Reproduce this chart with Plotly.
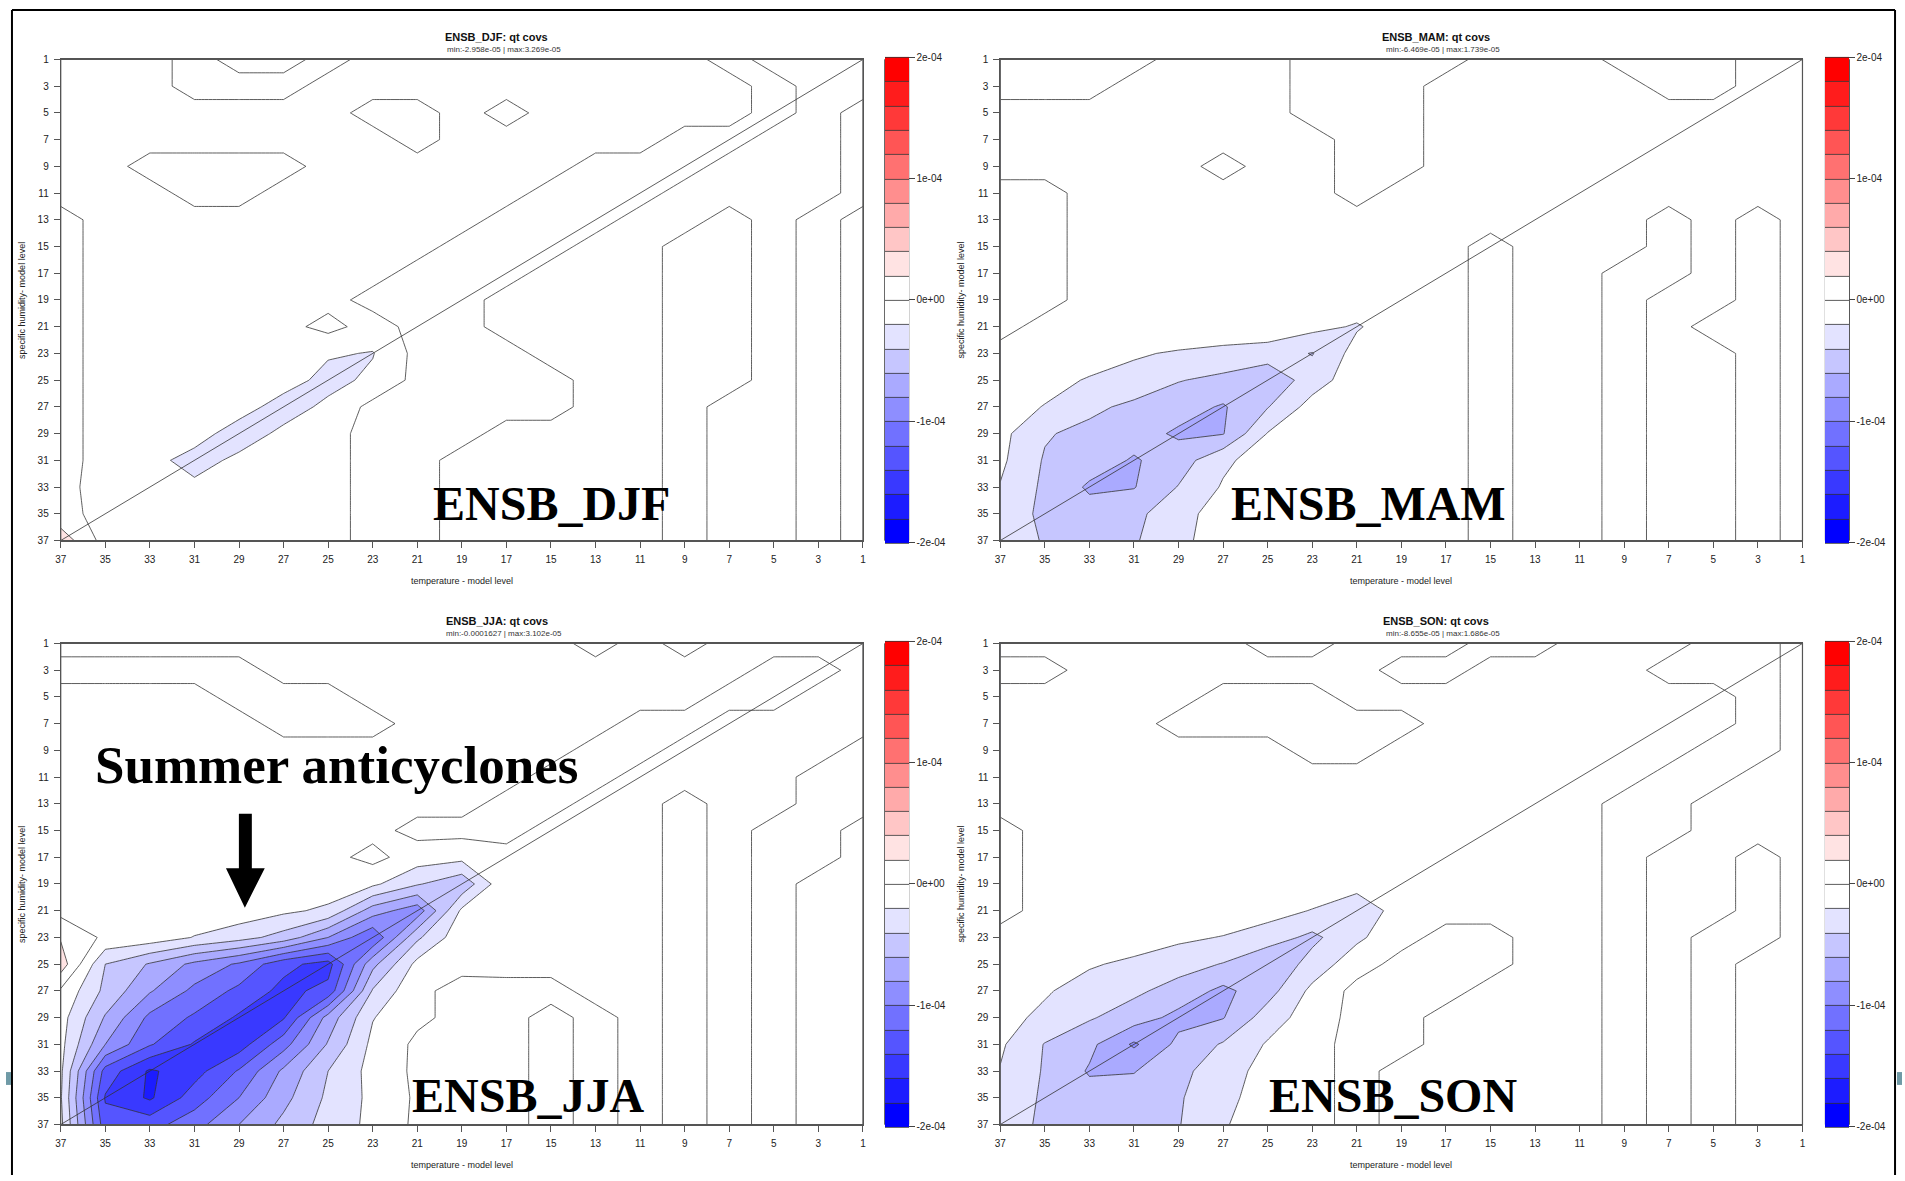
import plotly.graph_objects as go

W, H = 1905, 1181

# grid of model levels (odd levels, as on the tick labels)
X_LEVELS = list(range(1, 38, 2))      # temperature model level
Y_LEVELS = list(range(1, 38, 2))      # specific humidity model level
TICK_VALS = list(range(1, 38, 2))
CBAR_TICKS = [-2e-4, -1e-4, 0.0, 1e-4, 2e-4]
CBAR_TEXT = ["-2e-04", "-1e-04", "0e+00", "1e-04", "2e-04"]
LEVEL_COLORS = ["#0000FF", "#1C1CFF", "#3939FF", "#5555FF", "#7171FF",
                "#8E8EFF", "#AAAAFF", "#C6C6FF", "#E3E3FF", "#FFFFFF",
                "#FFFFFF", "#FFE3E3", "#FFC6C6", "#FFAAAA", "#FF8E8E",
                "#FF7171", "#FF5555", "#FF3939", "#FF1C1C", "#FF0000"]
UNIT = 1e-6

# covariance values in 1e-6 units; rows: level 1..37 (top->bottom),
# columns: level 37..1 (left->right, as displayed)
DJF = [
    [-6, -6, -6, 6, -6, -6, 6, -6, -6, -6, -6, -6, -6, -6, -6, 6, -6, -6, -6],
    [-6, -6, -6, 6, 6, 6, -6, -6, -6, -6, -6, -6, -6, -6, -6, -6, 6, -6, -6],
    [-6, -6, -6, -6, -6, -6, -6, 6, 6, -6, 6, -6, -6, -6, -6, -6, 6, -6, 6],
    [-6, -6, -6, -6, -6, -6, -6, -6, 6, -6, -6, -6, -6, -6, 6, 6, -6, -6, 6],
    [-6, -6, 6, 6, 6, 6, -6, -6, -6, -6, -6, -6, 6, 6, 6, -6, -6, -6, 6],
    [-6, -6, -6, 6, 6, -6, -6, -6, -6, -6, -6, 6, 6, 6, -6, -6, -6, -6, 6],
    [6, -6, -6, -6, -6, -6, -6, -6, -6, -6, 6, 6, 6, -6, -6, 6, -6, 6, -6],
    [6, -6, -6, -6, -6, -6, -6, -6, -6, 6, 6, 6, -6, -6, 6, 6, -6, 6, -6],
    [6, -6, -6, -6, -6, -6, -6, -6, 6, 6, 6, -6, -6, -6, 6, 6, -6, 6, -6],
    [6, -6, -6, -6, -6, -6, -6, 6, 6, 6, -6, -6, -6, -6, 6, 6, -6, 6, -6],
    [6, -6, -6, -6, -6, -6, 6, -8, 6, 6, -6, -6, -6, -6, 6, 6, -6, 6, -6],
    [6, -6, -6, -6, -6, -6, -18, -21, 6, 6, 6, -6, -6, -6, 6, 6, -6, 6, -6],
    [6, -6, -6, -6, -6, -12, -26, -16, 6, 6, 6, 6, -6, -6, 6, 6, -6, 6, -6],
    [6, -6, -6, -6, -12, -28, -16, 6, 6, 6, 6, 6, -6, -6, 6, -6, -6, 6, -6],
    [6, -6, -6, -12, -29, -16, -6, 6, 6, 6, -6, -6, -6, -6, 6, -6, -6, 6, -6],
    [6, -6, -14, -27, -16, -6, -6, 6, 6, -6, -6, -6, -6, -6, 6, -6, -6, 6, -6],
    [6, -8, -16, -16, -6, -6, -6, 6, 6, -6, -6, -6, -6, -6, 6, -6, -6, 6, -6],
    [6, -6, -10, -6, -6, -6, -6, 6, 6, -6, -6, -6, -6, -6, 6, -6, -6, 6, -6],
    [32, -8, -6, -6, -6, -6, -6, 6, 6, -6, -6, -6, -6, -6, 6, -6, -6, 6, -6],
]

MAM = [
    [6, 6, 6, 6, -6, -6, -6, 6, 6, 6, 6, -6, -6, -6, 6, 6, 6, -6, -6],
    [6, 6, 6, -6, -6, -6, -6, 6, 6, 6, -6, -6, -6, -6, -6, 6, 6, -6, -6],
    [-6, -6, -6, -6, -6, -6, -6, 6, 6, 6, -6, -6, -6, -6, -6, -6, -6, -6, -6],
    [-6, -6, -6, -6, -6, -6, -6, -6, 6, 6, -6, -6, -6, -6, -6, -6, -6, -6, -6],
    [-6, -6, -6, -6, -6, 6, -6, -6, 6, 6, -6, -6, -6, -6, -6, -6, -6, -6, -6],
    [6, 6, -6, -6, -6, -6, -6, -6, 6, -6, -6, -6, -6, -6, -6, -6, -6, -6, -6],
    [6, 6, -6, -6, -6, -6, -6, -6, -6, -6, -6, -6, -6, -6, -6, 6, -6, 6, -6],
    [6, 6, -6, -6, -6, -6, -6, -6, -6, -6, -6, 6, -6, -6, -6, 6, -6, 6, -6],
    [6, 6, -6, -6, -6, -6, -6, -6, -6, -6, -6, 6, -6, -6, 6, 6, -6, 6, -6],
    [6, 6, -6, -6, -6, -6, -6, -6, -8, -6, -6, 6, -6, -6, 6, -6, -6, 6, -6],
    [6, -6, -6, -6, -6, -6, -6, -14, -22, -8, -6, 6, -6, -6, 6, -6, 6, 6, -6],
    [-6, -6, -8, -18, -22, -26, -30, -41, -12, -6, -6, 6, -6, -6, 6, -6, -6, 6, -6],
    [-6, -12, -22, -26, -39, -45, -55, -30, -8, -4, -6, 6, -6, -6, 6, -6, -6, 6, -6],
    [-10, -21, -35, -45, -52, -62, -41, -12, -6, -6, -6, 6, -6, -6, 6, -6, -6, 6, -6],
    [-14, -38, -46, -52, -63, -61, -19, -8, -4, -6, -6, 6, -6, -6, 6, -6, -6, 6, -6],
    [-16, -42, -50, -62, -50, -24, -10, -5, -6, -6, -6, 6, -6, -6, 6, -6, -6, 6, -6],
    [-21, -44, -63, -61, -39, -18, -8, -6, -6, -6, -6, 6, -6, -6, 6, -6, -6, 6, -6],
    [-24, -46, -52, -45, -28, -10, -6, -6, -6, -6, -6, 6, -6, -6, 6, -6, -6, 6, -6],
    [-26, -42, -48, -42, -26, -8, -6, -6, -6, -6, -6, 6, -6, -6, 6, -6, -6, 6, -6],
]

JJA = [
    [-6, -6, -6, -6, -6, -6, -6, -6, -6, -6, -6, -6, 6, -6, 6, -6, -6, -6, -6],
    [6, 6, 6, 6, 6, -6, -6, -6, -6, -6, -6, -6, -6, -6, -6, -6, 6, 6, -6],
    [-6, -6, -6, -6, 6, 6, 6, -6, -6, -6, -6, -6, -6, -6, -6, 6, 6, -6, -6],
    [-6, -6, -6, -6, -6, 6, 6, 6, -6, -6, -6, -6, -6, 6, 6, -6, -6, -6, -6],
    [-6, -6, -6, -6, -6, -6, -6, -6, -6, -6, -6, -6, 6, 6, -6, -6, -6, -6, 6],
    [-6, -6, -6, -6, -6, -6, -6, -6, -6, -6, -6, 6, 6, -6, -6, -6, -6, 6, 6],
    [-6, -6, -6, -6, -6, -6, -6, -6, -6, -6, 6, 6, -6, -6, 6, -6, -6, 6, 6],
    [-6, -6, -6, -6, -6, -6, -6, -6, 6, 6, 6, -6, -6, -6, 6, -6, 6, 6, -6],
    [-6, -6, -6, -6, -6, -6, -6, 6, -10, -14, -6, -6, -6, -6, 6, -6, 6, 6, -6],
    [-6, -6, -6, -6, -6, -8, -8, -16, -38, -55, -2, -6, -6, -6, 6, -6, 6, -6, -6],
    [-6, -6, -6, -6, -8, -16, -24, -70, -92, -16, -4, -6, -6, -6, 6, -6, 6, -6, -6],
    [18, -4, -8, -21, -32, -48, -80, -118, -44, -6, -6, -6, -6, -6, 6, -6, 6, -6, -6],
    [31, -40, -62, -85, -103, -134, -148, -66, -14, -5, -6, -6, -6, -6, 6, -6, 6, -6, -6],
    [-3, -45, -78, -105, -125, -146, -134, -38, -4, 6, 6, 6, -6, -6, 6, -6, 6, -6, -6],
    [-12, -62, -105, -123, -143, -142, -72, -21, -4, 6, 6, -6, 6, -6, 6, -6, 6, -6, -6],
    [-14, -80, -118, -142, -150, -108, -58, -15, 4, 6, 6, -6, 6, -6, 6, -6, 6, -6, -6],
    [-16, -128, -163, -148, -118, -76, -40, -13, 4, 6, 6, -6, 6, -6, 6, -6, 6, -6, -6],
    [-18, -142, -163, -130, -100, -66, -36, -15, 3, 6, 6, -6, 6, -6, 6, -6, 6, -6, -6],
    [-15, -132, -128, -108, -80, -55, -32, -15, 4, 6, 6, -6, 6, -6, 6, -6, 6, -6, -6],
]

SON = [
    [-6, -6, -6, -6, -6, -6, 6, 6, -6, -6, -6, 6, 6, -6, -6, -6, 6, 6, -6],
    [6, 6, -6, -6, -6, -6, -6, -6, -6, 6, 6, -6, -6, -6, -6, 6, 6, 6, -6],
    [-6, -6, -6, -6, -6, 6, 6, 6, -6, -6, -6, -6, -6, -6, -6, -6, -6, 6, -6],
    [-6, -6, -6, -6, 6, 6, 6, 6, 6, 6, -6, -6, -6, -6, -6, -6, -6, 6, -6],
    [-6, -6, -6, -6, -6, -6, -6, 6, 6, -6, -6, -6, -6, -6, -6, -6, 6, 6, -6],
    [-6, -6, -6, -6, -6, -6, -6, -6, -6, -6, -6, -6, -6, -6, -6, 6, 6, -6, -6],
    [-6, -6, -6, -6, -6, -6, -6, -6, -6, -6, -6, -6, -6, -6, 6, 6, -6, -6, -6],
    [6, -6, -6, -6, -6, -6, -6, -6, -6, -6, -6, -6, -6, -6, 6, 6, -6, -6, -6],
    [6, -6, -6, -6, -6, -6, -6, -6, -6, -6, -6, -6, -6, -6, 6, -6, -6, 6, -6],
    [6, -6, -6, -6, -6, -6, -6, -6, -10, -12, -5, -6, -6, -6, 6, -6, -6, 6, -6],
    [6, -6, -6, -6, -6, -6, -12, -21, -38, -8, -6, -6, -6, -6, 6, -6, -6, 6, -6],
    [-6, -6, -6, -10, -16, -21, -30, -45, -24, -6, 6, 6, -6, -6, 6, -6, 6, 6, -6],
    [-6, -10, -18, -24, -32, -41, -58, -32, -8, 6, 6, 6, -6, -6, 6, -6, 6, -6, -6],
    [-10, -18, -28, -36, -48, -65, -48, -15, 6, 6, 6, -6, -6, -6, 6, -6, 6, -6, -6],
    [-14, -24, -38, -50, -66, -61, -30, -10, 6, 6, -6, -6, -6, -6, 6, -6, 6, -6, -6],
    [-17, -41, -55, -83, -55, -38, -18, -6, 6, 6, -6, -6, -6, -6, 6, -6, 6, -6, -6],
    [-21, -42, -62, -61, -45, -30, -12, -6, 6, -6, -6, -6, -6, -6, 6, -6, 6, -6, -6],
    [-22, -44, -52, -50, -42, -26, -10, -6, 6, -6, -6, -6, -6, -6, 6, -6, 6, -6, -6],
    [-24, -46, -48, -46, -41, -22, -8, -6, 6, -6, -6, -6, -6, -6, 6, -6, 6, -6, -6],
]

TITLES = ["ENSB_DJF: qt covs", "ENSB_MAM: qt covs", "ENSB_JJA: qt covs", "ENSB_SON: qt covs"]
SUBTITLES = ["min:-2.958e-05 | max:3.269e-05", "min:-6.469e-05 | max:1.739e-05",
             "min:-0.0001627 | max:3.102e-05", "min:-8.655e-05 | max:1.686e-05"]
LABELS = ["ENSB_DJF", "ENSB_MAM", "ENSB_JJA", "ENSB_SON"]
GRIDS = [DJF, MAM, JJA, SON]

# ---------------- layout geometry (pixels) ----------------
PANELS = [  # left, right, top, bottom of plot area
    (55, 861, 54, 540), (999, 1805, 54, 540),
    (55, 861, 644, 1130), (999, 1805, 644, 1130),
]
CBAR_LEFT = [883, 1828, 883, 1828]
CBAR_W = 24
LABEL_POS = [(548, 503), (1369, 503), (524, 1101), (1394, 1101)]


def px(xp):
    return xp / W


def py(yp):
    return 1 - yp / H


# colorscale: plotly samples fill colours at band centres -> s = m/21;
# anything outside +-2e-4 (incl. the background) stays white
n_lev = 21
cscale = [[0.0, "#FFFFFF"], [0.95 / n_lev, "#FFFFFF"]]
for m in range(1, 21):
    cscale.append([m / n_lev, LEVEL_COLORS[m - 1]])
cscale.append([20.05 / n_lev, "#FFFFFF"])
cscale.append([1.0, "#FFFFFF"])

fig = go.Figure()
FONT = "Liberation Sans, Arial, Helvetica, sans-serif"
annotations = []
shapes = []
layout_axes = {}

for k, grid in enumerate(GRIDS):
    l, r, t, b = PANELS[k]
    sfx = "" if k == 0 else str(k + 1)
    xa, ya = "x" + sfx, "y" + sfx
    z = [[v * UNIT for v in row[::-1]] for row in grid]
    fig.add_trace(go.Contour(
        x=X_LEVELS, y=Y_LEVELS, z=z, xaxis=xa, yaxis=ya,
        autocontour=False,
        contours=dict(start=-2e-4, end=2e-4, size=2e-5, coloring="fill", showlines=True),
        line=dict(color="#333333", width=0.8, smoothing=0),
        colorscale=cscale,
        hoverinfo="skip",
        colorbar=dict(
            x=px(CBAR_LEFT[k]), xanchor="left", xpad=0, ypad=0,
            y=(py(t) + py(b)) / 2, yanchor="middle",
            thickness=CBAR_W, thicknessmode="pixels",
            len=(b - t) * 21 / 20, lenmode="pixels",
            outlinewidth=0, borderwidth=0,
            tickvals=CBAR_TICKS, ticktext=CBAR_TEXT,
            ticks="outside", ticklen=6, tickcolor="#444444",
            tickfont=dict(family=FONT, size=10, color="#222222"),
        ),
    ))
    # diagonal reference line
    fig.add_trace(go.Scatter(x=[37, 1], y=[37, 1], mode="lines", xaxis=xa, yaxis=ya,
                             line=dict(color="#333333", width=0.8), hoverinfo="skip",
                             showlegend=False))
    axis_common = dict(
        tickmode="array", tickvals=TICK_VALS, ticks="outside", ticklen=6,
        tickcolor="#555555", tickwidth=1, showline=True, mirror=True,
        linecolor="#555555", linewidth=1, showgrid=False, zeroline=False,
        tickfont=dict(family=FONT, size=10, color="#222222"), ticklabelstandoff=3,
    )
    layout_axes["xaxis" + sfx] = dict(domain=[px(l), px(r)], range=[37, 1], anchor=ya,
                                       **axis_common)
    layout_axes["yaxis" + sfx] = dict(domain=[py(b), py(t)], range=[37, 1], anchor=xa,
                                       **axis_common)
    # panel frame drawn on top, colorbar outline
    shapes.append(dict(type="rect", xref="paper", yref="paper", layer="above",
                       x0=px(l), x1=px(r), y0=py(b), y1=py(t),
                       line=dict(color="#555555", width=1.2)))
    shapes.append(dict(type="rect", xref="paper", yref="paper",
                       x0=px(CBAR_LEFT[k]), x1=px(CBAR_LEFT[k] + CBAR_W),
                       y0=py(b), y1=py(t), line=dict(color="#222222", width=1)))
    # titles
    annotations.append(dict(x=px(l + 438), y=py(t - 23), xref="paper", yref="paper",
                            text="<b>" + TITLES[k] + "</b>", showarrow=False,
                            font=dict(family=FONT, size=11, color="#111111"),
                            xanchor="center", yanchor="middle"))
    annotations.append(dict(x=px(l + 445), y=py(t - 3), xref="paper", yref="paper",
                            text=SUBTITLES[k], showarrow=False,
                            font=dict(family=FONT, size=8, color="#333333"),
                            xanchor="center", yanchor="bottom"))
    annotations.append(dict(x=px((l + r) / 2), y=py(b + 41), xref="paper", yref="paper",
                            text="temperature - model level", showarrow=False,
                            font=dict(family=FONT, size=9, color="#222222"),
                            xanchor="center", yanchor="middle"))
    annotations.append(dict(x=px(l - 39), y=py((t + b) / 2), xref="paper", yref="paper",
                            text="specific humidity- model level", showarrow=False,
                            textangle=-90,
                            font=dict(family=FONT, size=9, color="#222222"),
                            xanchor="center", yanchor="middle"))
    lx, ly = LABEL_POS[k]
    annotations.append(dict(x=px(lx), y=py(ly), xref="paper", yref="paper",
                            text="<b>" + LABELS[k] + "</b>", showarrow=False,
                            font=dict(family="Liberation Serif, Times New Roman, serif",
                                      size=48, color="#000000"),
                            xanchor="center", yanchor="middle"))

annotations.append(dict(x=px(332), y=py(767), xref="paper", yref="paper",
                        text="<b>Summer anticyclones</b>", showarrow=False,
                        font=dict(family="Liberation Serif, Times New Roman, serif",
                                  size=53, color="#000000"),
                        xanchor="center", yanchor="middle"))

# block arrow (pixels converted to paper)
arrow_px = [(234, 816), (247, 816), (247, 871), (260, 871), (240, 911), (221, 871), (234, 871)]
arrow_path = "M " + " L ".join(f"{px(x):.5f},{py(y):.5f}" for x, y in arrow_px) + " Z"
shapes.append(dict(type="path", path=arrow_path, xref="paper", yref="paper",
                   fillcolor="#000000", line=dict(width=0)))
# slide frame
shapes += [
    dict(type="line", xref="paper", yref="paper", x0=px(6), x1=px(6), y0=py(4), y1=0,
         line=dict(color="#000000", width=2)),
    dict(type="line", xref="paper", yref="paper", x0=px(6), x1=px(1898), y0=py(4), y1=py(4),
         line=dict(color="#000000", width=2)),
    dict(type="line", xref="paper", yref="paper", x0=px(1898), x1=px(1898), y0=py(4), y1=0,
         line=dict(color="#000000", width=2)),
    dict(type="rect", xref="paper", yref="paper", x0=0, x1=px(5), y0=py(1090), y1=py(1077),
         fillcolor="#6f9aa6", line=dict(width=0)),
    dict(type="rect", xref="paper", yref="paper", x0=px(1900), x1=1, y0=py(1090), y1=py(1077),
         fillcolor="#6f9aa6", line=dict(width=0)),
]

fig.update_layout(
    width=W, height=H, margin=dict(l=0, r=0, t=0, b=0),
    paper_bgcolor="white", plot_bgcolor="white", showlegend=False,
    annotations=annotations, shapes=shapes, **layout_axes,
)

fig.write_html("out.html")
